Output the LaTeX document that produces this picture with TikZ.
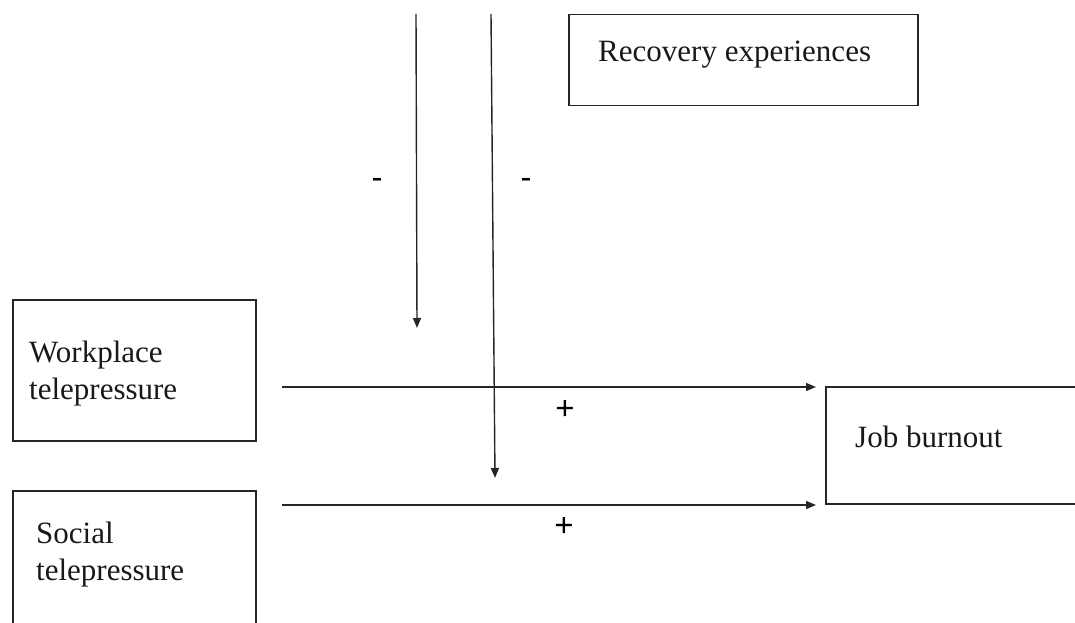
\documentclass[tikz,border=0pt]{standalone}
\usepackage{fontspec}
\setmainfont{Liberation Serif}
\newfontfamily\signfont{Liberation Sans}
\usetikzlibrary{arrows.meta}
\tikzset{
  box/.style={draw=black!85, line width=1.5pt, rectangle, inner sep=0pt},
  boxtext/.style={inner sep=0pt, anchor=base west, align=left, font=\fontsize{31}{37}\selectfont, text=black!90},
  arr/.style={draw=black!85, line width=1.4pt, -{Triangle[length=10pt,width=8pt]}},
  sign/.style={inner sep=0pt, anchor=base, font=\signfont\fontsize{33}{35}\selectfont, text=black},
}
\begin{document}
\begin{tikzpicture}[x=1pt,y=-1pt]
\useasboundingbox (0,0) rectangle (1075,623);
\clip (0,0) rectangle (1075,623);
% boxes
\node[box, minimum width=349pt, minimum height=91pt, anchor=north west] (rec) at (568,14) {};
\node[box, minimum width=243pt, minimum height=141pt, anchor=north west] (wp) at (12,299) {};
\node[box, minimum width=243pt, minimum height=160pt, anchor=north west] (sp) at (12,490) {};
\node[box, minimum width=280pt, minimum height=117pt, anchor=north west] (jb) at (825,386) {};
% texts
\node[boxtext] (rect) at (598,62) {Recovery experiences};
\node[boxtext] (wpt) at (29,399) {Workplace\\telepressure};
\node[boxtext] (spt) at (36,580) {Social\\telepressure};
\node[boxtext] (jbt) at (855,447) {Job burnout};
% connector ends
\coordinate (v1s) at (416,14);
\coordinate (v1e) at (417,328);
\coordinate (v2s) at (491,14);
\coordinate (v2e) at (495,478);
\coordinate (h1s) at (282,387);
\coordinate (h1e) at (816,387);
\coordinate (h2s) at (282,505);
\coordinate (h2e) at (816,505);
\draw[arr] (v1s) -- (v1e);
\draw[arr] (v2s) -- (v2e);
\draw[arr] (h1s) -- (h1e);
\draw[arr] (h2s) -- (h2e);
% signs
\node[sign] (m1) at (377,188) {-};
\node[sign] (m2) at (526,188) {-};
\node[sign] (p1) at (565,419.5) {+};
\node[sign] (p2) at (564,536.5) {+};
\end{tikzpicture}
\end{document}
